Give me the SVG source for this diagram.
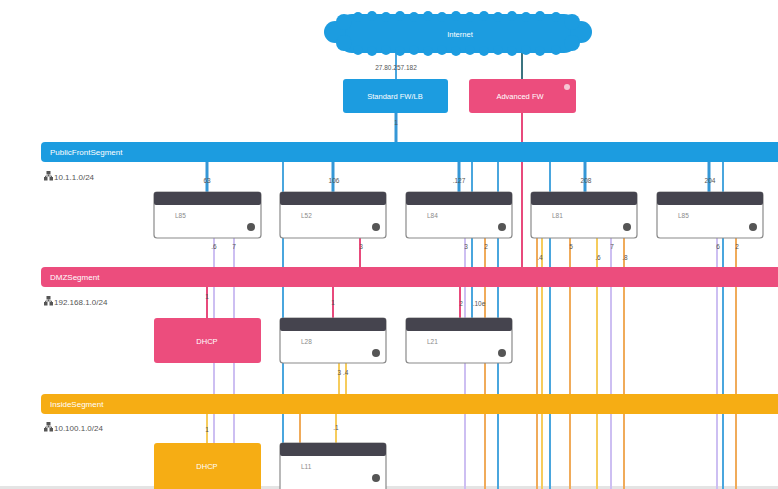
<svg xmlns="http://www.w3.org/2000/svg" width="778" height="489" viewBox="0 0 778 489">
  <defs>
    <style>
      .txt { font-family: "Liberation Sans", Arial, sans-serif; }
      .seg-title { font-size: 8px; fill: #ffffff; }
      .subnet { font-size: 8px; fill: #555555; }
      .lbl { font-size: 6.5px; fill: #555555; text-anchor: middle; }
      .node-box { fill: #ffffff; stroke: #8a8a8a; stroke-width: 1.2; }
      .node-head { fill: #45444e; }
      .node-name { font-size: 6.5px; fill: #8a8a8a; }
      .node-icon { fill: #555555; }
      .fw-text { font-size: 7.5px; fill: #ffffff; text-anchor: middle; }
      .blue { stroke: #4aa6de; stroke-width: 2; fill: none; }
      .blue-link { stroke: #3597d6; stroke-width: 3; fill: none; }
      .pink { stroke: #e84a7c; stroke-width: 2; fill: none; }
      .lav { stroke: #cdbff2; stroke-width: 2; fill: none; }
      .orange { stroke: #f0ab5a; stroke-width: 2; fill: none; }
      .yellow { stroke: #f6cc5c; stroke-width: 2; fill: none; }
    </style>
    <g id="net-icon">
      <rect x="2.5" y="0" width="4" height="3.5" fill="#555"/>
      <path d="M4.5 3.5 V5 M1.5 5 H7.5 M1.5 5 V6 M7.5 5 V6" stroke="#555" stroke-width="0.9" fill="none"/>
      <rect x="0" y="6" width="3.5" height="3.5" fill="#555"/>
      <rect x="5.5" y="6" width="3.5" height="3.5" fill="#555"/>
    </g>
  </defs>

  <rect x="0" y="0" width="778" height="489" fill="#ffffff"/>
  <rect x="0" y="486" width="778" height="3" fill="#e4e4e4"/>

  <!-- connectors -->
  <g id="connectors">
    <!-- internet uplinks -->
    <line class="blue" x1="396" y1="50" x2="396" y2="79"/>
    <line x1="522" y1="50" x2="522" y2="79" stroke="#3b7480" stroke-width="2"/>
    <line class="blue-link" x1="396" y1="113" x2="396" y2="143"/>
    <line class="pink" x1="522" y1="113" x2="522" y2="268"/>

    <!-- trunk lines running through the segments -->
    <line class="blue" x1="283" y1="161" x2="283" y2="489"/>
    <line class="blue" x1="472" y1="161" x2="472" y2="318"/>
    <line class="blue" x1="498" y1="161" x2="498" y2="489"/>
    <line class="blue" x1="550" y1="161" x2="550" y2="489"/>
    <line class="blue" x1="723" y1="161" x2="723" y2="489"/>

    <!-- public front to row 1 -->
    <line class="blue-link" x1="207" y1="161" x2="207" y2="193"/>
    <line class="blue-link" x1="333" y1="161" x2="333" y2="193"/>
    <line class="blue-link" x1="459" y1="161" x2="459" y2="193"/>
    <line class="blue-link" x1="585" y1="161" x2="585" y2="193"/>
    <line class="blue-link" x1="709" y1="161" x2="709" y2="193"/>

    <!-- row 1 downlinks -->
    <line class="lav" x1="214" y1="238" x2="214" y2="489"/>
    <line class="lav" x1="234" y1="238" x2="234" y2="489"/>
    <line class="pink" x1="360" y1="238" x2="360" y2="268"/>
    <line class="lav" x1="465" y1="238" x2="465" y2="489"/>
    <line class="orange" x1="485" y1="238" x2="485" y2="489"/>
    <line class="orange" x1="537" y1="238" x2="537" y2="489"/>
    <line class="yellow" x1="542" y1="238" x2="542" y2="489"/>
    <line class="orange" x1="570" y1="238" x2="570" y2="489"/>
    <line class="yellow" x1="597" y1="238" x2="597" y2="489"/>
    <line class="lav" x1="611" y1="238" x2="611" y2="489"/>
    <line class="orange" x1="624" y1="238" x2="624" y2="489"/>
    <line class="lav" x1="717" y1="238" x2="717" y2="489"/>
    <line class="orange" x1="736" y1="238" x2="736" y2="489"/>

    <!-- DMZ to row 2 -->
    <line class="pink" x1="207" y1="287" x2="207" y2="318"/>
    <line class="pink" x1="333" y1="287" x2="333" y2="318"/>
    <line class="pink" x1="460" y1="287" x2="460" y2="318"/>

    <!-- row 2 to inside -->
    <line class="yellow" x1="339" y1="363" x2="339" y2="395"/>
    <line class="yellow" x1="346" y1="363" x2="346" y2="395"/>

    <!-- inside to row 3 -->
    <line class="yellow" x1="207" y1="413" x2="207" y2="444"/>
    <line class="orange" x1="300" y1="405" x2="300" y2="444"/>
    <line class="yellow" x1="336" y1="413" x2="336" y2="444"/>
  </g>

  <!-- segments -->
  <g id="seg-public">
    <rect x="41" y="142" width="760" height="20" rx="4" fill="#1c9ce0"/>
    <text class="txt seg-title" x="50" y="155">PublicFrontSegment</text>
    <use href="#net-icon" x="44" y="171"/>
    <text class="txt subnet" x="54" y="180">10.1.1.0/24</text>
  </g>
  <g id="seg-dmz">
    <rect x="41" y="267" width="760" height="20" rx="4" fill="#ec4d7d"/>
    <text class="txt seg-title" x="50" y="280">DMZSegment</text>
    <use href="#net-icon" x="44" y="296"/>
    <text class="txt subnet" x="54" y="305">192.168.1.0/24</text>
  </g>
  <g id="seg-inside">
    <rect x="41" y="394" width="760" height="20" rx="4" fill="#f6ad14"/>
    <text class="txt seg-title" x="50" y="407">InsideSegment</text>
    <use href="#net-icon" x="44" y="422"/>
    <text class="txt subnet" x="54" y="431">10.100.1.0/24</text>
  </g>

  <!-- internet cloud: a body with shallow scalloped edges -->
  <g id="internet" fill="#1c9ce0">
    <rect x="338" y="14" width="240" height="39" rx="14"/>
    <circle cx="335" cy="32" r="11"/>
    <circle cx="581" cy="32" r="11"/>
    <circle cx="344" cy="22" r="8"/>
    <circle cx="344" cy="43" r="8"/>
    <circle cx="572" cy="22" r="8"/>
    <circle cx="572" cy="43" r="8"/>
    <circle cx="358" cy="17" r="5"/>
    <circle cx="372" cy="16" r="5"/>
    <circle cx="386" cy="17" r="5"/>
    <circle cx="400" cy="16" r="5"/>
    <circle cx="414" cy="17" r="5"/>
    <circle cx="428" cy="16" r="5"/>
    <circle cx="442" cy="17" r="5"/>
    <circle cx="456" cy="16" r="5"/>
    <circle cx="470" cy="17" r="5"/>
    <circle cx="484" cy="16" r="5"/>
    <circle cx="498" cy="17" r="5"/>
    <circle cx="512" cy="16" r="5"/>
    <circle cx="526" cy="17" r="5"/>
    <circle cx="540" cy="16" r="5"/>
    <circle cx="556" cy="17" r="5"/>
    <circle cx="358" cy="50" r="5"/>
    <circle cx="372" cy="51" r="5"/>
    <circle cx="386" cy="50" r="5"/>
    <circle cx="400" cy="51" r="5"/>
    <circle cx="414" cy="50" r="5"/>
    <circle cx="428" cy="51" r="5"/>
    <circle cx="442" cy="50" r="5"/>
    <circle cx="456" cy="51" r="5"/>
    <circle cx="470" cy="50" r="5"/>
    <circle cx="484" cy="51" r="5"/>
    <circle cx="498" cy="50" r="5"/>
    <circle cx="512" cy="51" r="5"/>
    <circle cx="526" cy="50" r="5"/>
    <circle cx="540" cy="51" r="5"/>
    <circle cx="556" cy="50" r="5"/>
    <text class="txt fw-text" x="460" y="37">Internet</text>
  </g>

  <g id="fw-standard">
    <rect x="343" y="79" width="105" height="34" rx="3" fill="#1c9ce0"/>
    <text class="txt fw-text" x="395" y="99">Standard FW/LB</text>
  </g>
  <g id="fw-advanced">
    <rect x="469" y="79" width="107" height="34" rx="3" fill="#ec4d7d"/>
    <text class="txt fw-text" x="520" y="99">Advanced FW</text>
    <circle cx="567" cy="87" r="3" fill="#f6c6d4"/>
  </g>

  <!-- row 1 -->
  <g id="n-l85a">
    <rect class="node-box" x="154" y="192" width="107" height="46" rx="3"/>
    <rect class="node-head" x="154" y="192" width="107" height="13" rx="2"/>
    <text class="txt node-name" x="175" y="218">L85</text>
    <circle class="node-icon" cx="251" cy="227" r="4"/>
  </g>
  <g id="n-l52">
    <rect class="node-box" x="280" y="192" width="106" height="46" rx="3"/>
    <rect class="node-head" x="280" y="192" width="106" height="13" rx="2"/>
    <text class="txt node-name" x="301" y="218">L52</text>
    <circle class="node-icon" cx="376" cy="227" r="4"/>
  </g>
  <g id="n-l84">
    <rect class="node-box" x="406" y="192" width="106" height="46" rx="3"/>
    <rect class="node-head" x="406" y="192" width="106" height="13" rx="2"/>
    <text class="txt node-name" x="427" y="218">L84</text>
    <circle class="node-icon" cx="502" cy="227" r="4"/>
  </g>
  <g id="n-l81">
    <rect class="node-box" x="531" y="192" width="106" height="46" rx="3"/>
    <rect class="node-head" x="531" y="192" width="106" height="13" rx="2"/>
    <text class="txt node-name" x="552" y="218">L81</text>
    <circle class="node-icon" cx="627" cy="227" r="4"/>
  </g>
  <g id="n-l85b">
    <rect class="node-box" x="657" y="192" width="106" height="46" rx="3"/>
    <rect class="node-head" x="657" y="192" width="106" height="13" rx="2"/>
    <text class="txt node-name" x="678" y="218">L85</text>
    <circle class="node-icon" cx="753" cy="227" r="4"/>
  </g>

  <!-- row 2 -->
  <g id="n-dhcp-dmz">
    <rect x="154" y="318" width="107" height="45" rx="3" fill="#ec4d7d"/>
    <text class="txt fw-text" x="207" y="344">DHCP</text>
  </g>
  <g id="n-l28">
    <rect class="node-box" x="280" y="318" width="106" height="45" rx="3"/>
    <rect class="node-head" x="280" y="318" width="106" height="13" rx="2"/>
    <text class="txt node-name" x="301" y="344">L28</text>
    <circle class="node-icon" cx="376" cy="353" r="4"/>
  </g>
  <g id="n-l21">
    <rect class="node-box" x="406" y="318" width="106" height="45" rx="3"/>
    <rect class="node-head" x="406" y="318" width="106" height="13" rx="2"/>
    <text class="txt node-name" x="427" y="344">L21</text>
    <circle class="node-icon" cx="502" cy="353" r="4"/>
  </g>

  <!-- row 3 -->
  <g id="n-dhcp-inside">
    <rect x="154" y="443" width="107" height="50" rx="3" fill="#f6ad14"/>
    <text class="txt fw-text" x="207" y="469">DHCP</text>
  </g>
  <g id="n-l11">
    <rect class="node-box" x="280" y="443" width="106" height="50" rx="3"/>
    <rect class="node-head" x="280" y="443" width="106" height="13" rx="2"/>
    <text class="txt node-name" x="301" y="469">L11</text>
    <circle class="node-icon" cx="376" cy="478" r="4"/>
  </g>

  <!-- link labels -->
  <g id="link-labels" class="txt">
    <text class="lbl" x="396" y="70" fill="#333">27.80.257.182</text>
    <text class="lbl" x="396" y="125">1</text>
    <text class="lbl" x="207" y="183">63</text>
    <text class="lbl" x="334" y="183">106</text>
    <text class="lbl" x="459" y="183">.127</text>
    <text class="lbl" x="586" y="183">208</text>
    <text class="lbl" x="710" y="183">204</text>
    <text class="lbl" x="214" y="249">.6</text>
    <text class="lbl" x="234" y="249">7</text>
    <text class="lbl" x="361" y="249">3</text>
    <text class="lbl" x="466" y="249">3</text>
    <text class="lbl" x="486" y="249">2</text>
    <text class="lbl" x="540" y="260">.4</text>
    <text class="lbl" x="571" y="249">5</text>
    <text class="lbl" x="598" y="260">.6</text>
    <text class="lbl" x="612" y="249">7</text>
    <text class="lbl" x="625" y="260">.8</text>
    <text class="lbl" x="718" y="249">6</text>
    <text class="lbl" x="737" y="249">2</text>
    <text class="lbl" x="207" y="299">1</text>
    <text class="lbl" x="333" y="305">1</text>
    <text class="lbl" x="461" y="306">2</text>
    <text class="lbl" x="479" y="306">.10e</text>
    <text class="lbl" x="343" y="375">3 .4</text>
    <text class="lbl" x="207" y="432">1</text>
    <text class="lbl" x="336" y="430">.1</text>
  </g>
</svg>
